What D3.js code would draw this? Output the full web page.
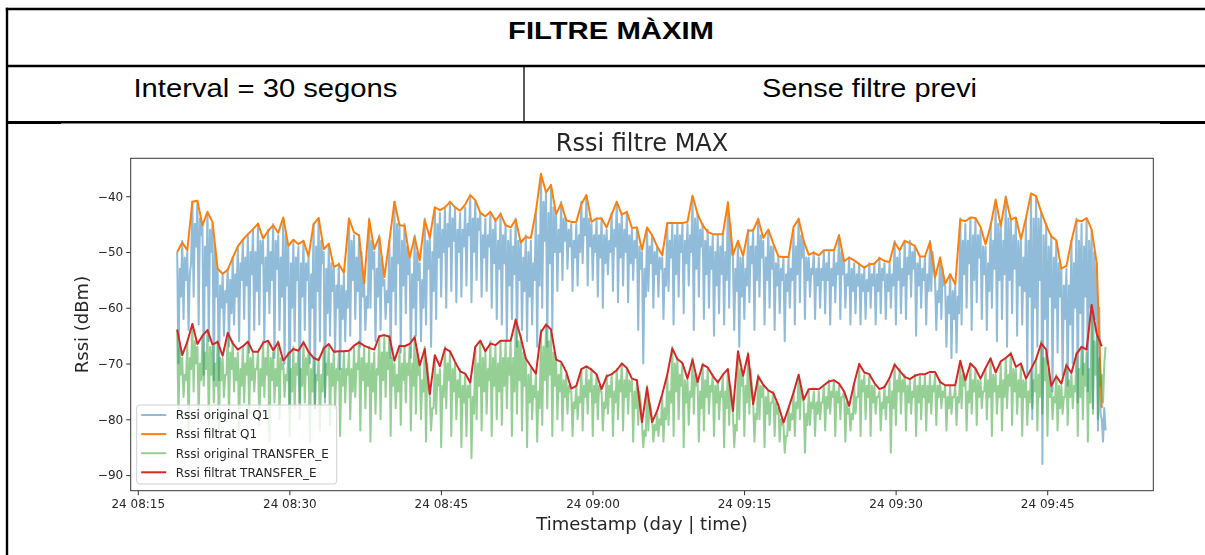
<!DOCTYPE html>
<html>
<head>
<meta charset="utf-8">
<script src="https://cdn.jsdelivr.net/npm/d3@7"></script>
<style>
  html, body { margin: 0; padding: 0; background: #fff; }
  svg { display: block; }
</style>
</head>
<body>
<svg id="fig" width="1205" height="555"></svg>
<script>
// ---- texts ----
const tableTitle = "FILTRE MÀXIM";
const tableCells = ["Interval = 30 segons", "Sense filtre previ"];
const chartTitle = "Rssi filtre MAX";
const xLabel = "Timestamp (day | time)";
const yLabel = "Rssi (dBm)";
const seriesNames = ["Rssi original Q1", "Rssi filtrat Q1", "Rssi original TRANSFER_E", "Rssi filtrat TRANSFER_E"];
const seriesColors = ["#1f77b4", "#ff7f0e", "#2ca02c", "#d62728"];

// ---- axes ----
const yTicks = [-90, -80, -70, -60, -50, -40];
const yDomain = [-92.8, -33.2];
const xTickTimes = ["2020-02-24T08:15:00", "2020-02-24T08:30:00", "2020-02-24T08:45:00",
                    "2020-02-24T09:00:00", "2020-02-24T09:15:00", "2020-02-24T09:30:00", "2020-02-24T09:45:00"];
const xDomain = ["2020-02-24T08:14:18", "2020-02-24T09:55:30"];

// ---- sampling ----
const firstSample = "2020-02-24T08:18:54";
const rawStepSec = 7.5;     // raw readings
const filterStepSec = 30;   // max filter window

// max over each 30 s window, Q1 (dBm)
const q1Filtered = [
  -50, -48.3, -49.7, -41, -40.8, -45.2, -42.8, -44.7, -53, -53.9,
  -53.2, -51, -49, -47.8, -46.8, -45.9, -44.9, -47.6, -46.2, -45.2,
  -46.6, -43.8, -48.9, -47.8, -48.6, -48, -50.8, -45, -43.9, -49.5,
  -48.5, -52.7, -52.2, -53.7, -44, -46.5, -47, -55.7, -44.2, -49.5,
  -47.3, -54.5, -48, -41, -45.2, -45.3, -51, -47.3, -51.5, -44.3,
  -47.4, -42, -42.5, -42, -41, -42, -42.6, -41.5, -39.8, -40.7,
  -43, -43.6, -42.8, -44.4, -43.2, -45.2, -45.6, -44.2, -48.3, -47.3,
  -47.5, -42.7, -36, -39.3, -38, -43.2, -41.3, -44.3, -44.6, -44.6,
  -41.4, -39.8, -44.6, -44, -44, -45.6, -43.2, -41, -43.3, -42.8,
  -45.7, -45.6, -49.6, -45.6, -47, -49, -50.6, -44.8, -44.8, -44.8,
  -44.8, -44.6, -39.9, -43.2, -45.2, -46.4, -46.8, -46.8, -46.8, -41.2,
  -50.5, -48, -50.7, -46.2, -46.1, -44.1, -47.5, -46, -48.5, -50.8,
  -50.9, -50.9, -45.5, -44.1, -48, -50.5, -50.1, -50.6, -49.7, -49.7,
  -49.7, -47, -51.7, -51, -51.5, -52.2, -52.8, -52.2, -52.1, -51.1,
  -51.6, -51.8, -48.3, -49.7, -48, -48.4, -48.9, -50.8, -50.8, -48.2,
  -54.6, -51, -55.7, -54, -55.8, -44.2, -44.5, -43.8, -43.9, -45.5,
  -48.6, -45.3, -40.6, -45.3, -40.2, -44.2, -43.8, -47.7, -43.9, -39.5,
  -40, -42.8, -45.2, -47.2, -47.9, -53, -52.5, -48, -44.3, -44.5,
  -43.9, -46, -52, -78
];

// max over each 30 s window, TRANSFER_E (dBm)
const teFiltered = [
  -63.9, -68.5, -66.1, -62.9, -66.5, -65, -64, -66.6, -66.1, -68.6,
  -64.5, -66.4, -67.5, -66.9, -66.1, -67.9, -67.9, -66.3, -65.9, -67.6,
  -66.2, -69.5, -68.3, -67.4, -67.7, -66.2, -67.9, -69, -69.4, -67.3,
  -66.5, -67.9, -67.8, -67.8, -67.7, -66.8, -66.2, -66.8, -67.2, -67.5,
  -65.1, -64.9, -65.2, -69.5, -66.8, -66.9, -66.5, -65.3, -70.3, -67.4,
  -75.5, -68.5, -70.5, -67.3, -67.8, -69.7, -71.4, -71.8, -73.4, -67,
  -65.9, -67.8, -66.4, -66.7, -65.9, -65.9, -65.9, -62.2, -65.3, -69.1,
  -70.5, -71.8, -64.4, -63, -63.9, -69.3, -69.7, -71.5, -74.5, -74,
  -71, -70.5, -71.1, -71.9, -74.6, -72.3, -71.9, -71.2, -70, -70.8,
  -72.7, -73, -80.5, -74.3, -80.5, -78.5, -75.5, -72, -67.3, -69.2,
  -69.9, -72.7, -69.3, -73.3, -70.2, -70.7, -72.2, -73.4, -72, -71,
  -78.5, -67.8, -72.2, -68.3, -77.3, -72.3, -73.8, -74.8, -75.3, -77.5,
  -80.6, -78, -75.2, -72, -76.5, -74.6, -74.5, -74.6, -73.9, -73.2,
  -73, -73.6, -75, -77.6, -73.5, -70.1, -71.6, -71.9, -73.5, -74.6,
  -74.2, -72.6, -70.2, -71.3, -72.4, -72.8, -72.2, -71.9, -71.9, -71.5,
  -71.5, -73.3, -73.9, -73.9, -73.9, -69.5, -73, -70, -70.9, -72.7,
  -70.8, -69.1, -71.6, -69.6, -69, -68.2, -70.6, -70, -72.7, -71,
  -69.2, -66.4, -67.5, -74, -72.3, -73.6, -70.3, -71.7, -68.3, -67,
  -67.5, -59.5, -64.7, -66.9
];

// raw readings every 7.5 s, Q1 (dBm)
const q1Raw = [
  -50,-70,-53,-58, -48,-62,-51,-55, -50,-64,-54,-52, -41,-58,-45,-49, -41,-63,-44,-47, -45,-72,-49,-56, -43,-66,-46,-50, -45,-73,-49,-58,
  -53,-73,-56,-60, -54,-65,-57,-59, -53,-67,-55,-61, -51,-63,-54,-58, -49,-66,-52,-55, -48,-62,-51,-56, -47,-68,-50,-54, -46,-64,-50,-57,
  -45,-63,-48,-52, -48,-66,-51,-57, -46,-61,-50,-55, -45,-69,-48,-53, -47,-64,-51,-58, -44,-70,-47,-56, -49,-78,-52,-60, -48,-66,-51,-55,
  -49,-77,-52,-58, -48,-64,-52,-55, -51,-70,-54,-60, -45,-78,-49,-57, -44,-66,-48,-52, -50,-77,-53,-61, -49,-65,-52,-57, -53,-68,-56,-60,
  -52,-71,-56,-62, -54,-66,-57,-60, -44,-65,-48,-55, -47,-62,-51,-57, -47,-67,-50,-58, -56,-64,-58,-60, -44,-60,-48,-53, -50,-66,-53,-58,
  -47,-64,-51,-56, -55,-62,-57,-59, -48,-69,-51,-57, -41,-63,-45,-52, -45,-68,-48,-56, -45,-61,-49,-54, -51,-69,-54,-60, -47,-65,-50,-55,
  -52,-66,-55,-60, -44,-63,-48,-53, -47,-67,-50,-57, -42,-62,-45,-51, -43,-58,-46,-50, -42,-60,-45,-49, -41,-57,-44,-48, -42,-59,-46,-50,
  -43,-58,-46,-49, -42,-56,-45,-47, -40,-59,-44,-50, -41,-55,-44,-46, -43,-58,-47,-51, -44,-57,-47,-49, -43,-60,-46,-52, -44,-62,-48,-53,
  -43,-63,-47,-52, -45,-66,-48,-56, -46,-62,-49,-54, -44,-67,-48,-55, -48,-64,-51,-57, -47,-66,-50,-58, -48,-63,-52,-55, -43,-67,-47,-56,
  -36,-60,-41,-48, -39,-67,-43,-52, -38,-64,-42,-50, -43,-57,-46,-50, -41,-55,-44,-48, -44,-53,-46,-49, -45,-57,-48,-51, -45,-56,-47,-50,
  -41,-52,-44,-47, -40,-56,-44,-49, -45,-55,-47,-50, -44,-58,-47,-51, -44,-60,-47,-52, -46,-54,-48,-50, -43,-57,-46,-49, -41,-59,-45,-51,
  -43,-56,-46,-50, -43,-59,-47,-52, -46,-55,-48,-51, -46,-64,-49,-53, -50,-70,-53,-58, -46,-57,-49,-52, -47,-60,-50,-54, -49,-58,-51,-53,
  -51,-62,-53,-56, -45,-57,-48,-51, -45,-63,-47,-54, -45,-58,-47,-50, -45,-61,-48,-52, -45,-56,-47,-50, -40,-64,-44,-53, -43,-58,-46,-49,
  -45,-62,-48,-54, -46,-60,-49,-53, -47,-65,-50,-56, -47,-61,-49,-54, -47,-63,-50,-55, -41,-60,-45,-50, -51,-64,-53,-57, -48,-67,-51,-58,
  -51,-62,-53,-56, -46,-59,-49,-52, -46,-64,-49,-55, -44,-58,-47,-51, -48,-63,-51,-55, -46,-60,-49,-53, -49,-64,-52,-56, -51,-61,-53,-55,
  -51,-66,-54,-57, -51,-60,-53,-55, -46,-63,-49,-54, -44,-59,-47,-51, -48,-62,-51,-55, -51,-58,-53,-54, -50,-62,-53,-56, -51,-60,-53,-55,
  -50,-61,-52,-55, -50,-63,-53,-56, -50,-59,-52,-54, -47,-62,-50,-54, -52,-60,-54,-56, -51,-63,-53,-57, -52,-61,-54,-56, -52,-63,-54,-57,
  -53,-62,-55,-57, -52,-60,-54,-56, -52,-63,-54,-57, -51,-61,-53,-55, -52,-62,-54,-57, -52,-60,-54,-56, -48,-63,-51,-55, -50,-61,-53,-56,
  -48,-62,-51,-54, -48,-58,-50,-53, -49,-65,-52,-56, -51,-60,-53,-55, -51,-63,-54,-57, -48,-57,-50,-52, -55,-64,-57,-59, -51,-62,-53,-56,
  -56,-67,-58,-61, -54,-69,-57,-62, -56,-68,-58,-61, -44,-63,-48,-54, -45,-60,-48,-52, -44,-64,-47,-55, -44,-59,-47,-51, -46,-62,-49,-54,
  -49,-64,-52,-57, -45,-60,-48,-53, -41,-66,-45,-55, -45,-62,-48,-54, -40,-67,-44,-55, -44,-61,-47,-53, -44,-65,-48,-56, -48,-63,-51,-57,
  -44,-72,-48,-58, -40,-80,-44,-60, -40,-67,-44,-55, -43,-88,-47,-62, -45,-70,-49,-58, -47,-75,-51,-60, -48,-68,-52,-58, -53,-72,-56,-62,
  -53,-74,-56,-63, -48,-70,-52,-60, -44,-77,-48,-61, -45,-72,-49,-58, -44,-75,-48,-60, -46,-78,-50,-62, -52,-82,-60,-79, -80,-84,-78,-82
];

// raw readings every 7.5 s, TRANSFER_E (dBm)
const teRaw = [
  -64,-80,-67,-72, -69,-76,-72,-73, -66,-82,-69,-71, -63,-75,-66,-70, -67,-79,-70,-73, -65,-74,-68,-71, -64,-81,-67,-72, -67,-77,-70,-74,
  -66,-83,-69,-73, -69,-76,-72,-72, -65,-80,-68,-71, -66,-75,-69,-73, -68,-82,-71,-74, -67,-77,-70,-72, -66,-79,-69,-73, -68,-75,-71,-71,
  -68,-81,-71,-74, -66,-76,-69,-72, -66,-84,-69,-73, -68,-77,-71,-74, -66,-80,-69,-71, -70,-76,-72,-73, -68,-83,-71,-75, -67,-78,-70,-72,
  -68,-80,-71,-74, -66,-77,-69,-72, -68,-84,-71,-75, -69,-78,-72,-73, -69,-82,-72,-75, -67,-76,-70,-72, -67,-81,-70,-74, -68,-78,-71,-73,
  -68,-83,-71,-74, -68,-77,-71,-72, -68,-80,-71,-75, -67,-76,-70,-71, -66,-82,-69,-73, -67,-78,-70,-74, -67,-84,-70,-75, -68,-79,-71,-72,
  -65,-80,-68,-73, -65,-76,-68,-71, -65,-83,-69,-74, -70,-78,-72,-75, -67,-81,-70,-73, -67,-77,-70,-72, -67,-82,-70,-74, -65,-79,-68,-72,
  -70,-80,-73,-75, -67,-84,-70,-74, -76,-82,-78,-78, -69,-79,-72,-74, -71,-85,-74,-76, -67,-78,-70,-73, -68,-83,-71,-75, -70,-80,-73,-76,
  -71,-85,-74,-77, -72,-83,-74,-76, -73,-87,-76,-79, -67,-80,-70,-74, -66,-82,-69,-75, -68,-79,-71,-73, -66,-83,-69,-74, -67,-80,-70,-75,
  -66,-81,-69,-74, -66,-78,-69,-72, -66,-83,-69,-75, -62,-79,-66,-73, -65,-82,-68,-74, -69,-85,-72,-77, -71,-80,-74,-76, -72,-84,-75,-78,
  -64,-81,-67,-73, -63,-78,-66,-72, -64,-83,-68,-74, -69,-80,-72,-75, -70,-82,-73,-76, -72,-79,-74,-75, -75,-83,-77,-78, -74,-80,-76,-77,
  -71,-82,-74,-76, -71,-79,-73,-75, -71,-83,-74,-77, -72,-80,-74,-75, -75,-82,-77,-78, -72,-79,-74,-76, -72,-83,-75,-77, -71,-80,-73,-75,
  -70,-82,-73,-76, -71,-79,-73,-75, -73,-84,-75,-78, -73,-81,-75,-77, -81,-85,-82,-83, -74,-82,-77,-78, -80,-84,-81,-82, -79,-83,-80,-81,
  -76,-84,-78,-80, -72,-81,-75,-77, -67,-83,-70,-75, -69,-80,-72,-74, -70,-85,-73,-77, -73,-81,-75,-76, -69,-79,-72,-74, -73,-84,-75,-78,
  -70,-82,-73,-76, -71,-79,-74,-75, -72,-83,-74,-77, -73,-80,-75,-76, -72,-85,-75,-78, -71,-81,-74,-76, -79,-85,-81,-82, -68,-80,-71,-74,
  -72,-83,-74,-77, -68,-79,-71,-74, -77,-84,-79,-80, -72,-80,-74,-76, -74,-85,-76,-79, -75,-81,-77,-77, -75,-83,-77,-79, -78,-84,-80,-81,
  -81,-86,-83,-83, -78,-82,-79,-80, -75,-83,-77,-78, -72,-80,-74,-76, -77,-86,-79,-81, -75,-81,-77,-78, -75,-83,-77,-79, -75,-80,-77,-77,
  -74,-82,-76,-78, -73,-79,-75,-76, -73,-83,-75,-77, -74,-80,-76,-76, -75,-84,-77,-79, -78,-82,-79,-80, -74,-79,-76,-76, -70,-83,-73,-75,
  -72,-80,-74,-76, -72,-83,-74,-77, -74,-79,-76,-76, -75,-82,-77,-78, -74,-80,-76,-77, -73,-86,-75,-78, -70,-81,-73,-75, -71,-79,-73,-75,
  -72,-82,-74,-77, -73,-79,-75,-76, -72,-83,-74,-77, -72,-80,-74,-76, -72,-82,-74,-77, -72,-79,-74,-75, -72,-81,-74,-76, -73,-78,-75,-76,
  -74,-82,-76,-78, -74,-79,-76,-76, -74,-81,-76,-77, -70,-78,-72,-74, -73,-82,-75,-77, -70,-79,-73,-75, -71,-81,-73,-76, -73,-78,-75,-75,
  -71,-80,-73,-76, -69,-83,-72,-75, -72,-79,-74,-76, -70,-82,-73,-76, -69,-78,-72,-74, -68,-81,-71,-75, -71,-79,-73,-76, -70,-83,-73,-76,
  -73,-81,-75,-77, -71,-78,-73,-75, -69,-82,-72,-76, -66,-79,-69,-73, -68,-83,-71,-76, -74,-80,-76,-77, -72,-82,-74,-78, -74,-79,-76,-76,
  -70,-81,-73,-76, -72,-78,-74,-75, -68,-83,-71,-76, -67,-80,-70,-74, -68,-84,-71,-77, -60,-79,-66,-72, -65,-80,-69,-74, -72,-77,-70,-67
];

// ---------------------------------------------------------------
const svg = d3.select("#fig");
const W = 1205, H = 555;
svg.append("rect").attr("width", W).attr("height", H).attr("fill", "#fff");

// ---- header table ----
const table = svg.append("g");
const tableFont = "'Liberation Sans', Arial, sans-serif";
const tl = { left: 7, top: 9, row1: 66, row2: 122.5, split: 524, right: 1215 };

table.append("line").attr("x1", 5.8).attr("x2", W).attr("y1", tl.top).attr("y2", tl.top)
  .attr("stroke", "#000").attr("stroke-width", 2.4);
table.append("line").attr("x1", tl.left).attr("x2", W).attr("y1", tl.row1).attr("y2", tl.row1)
  .attr("stroke", "#000").attr("stroke-width", 2.4);
table.append("line").attr("x1", tl.left).attr("x2", W).attr("y1", tl.row2).attr("y2", tl.row2)
  .attr("stroke", "#000").attr("stroke-width", 3);
table.append("line").attr("x1", tl.split).attr("x2", tl.split).attr("y1", tl.row1).attr("y2", tl.row2)
  .attr("stroke", "#000").attr("stroke-width", 1.3);

table.append("text").text(tableTitle)
  .attr("x", (tl.left + tl.right) / 2).attr("y", 39)
  .attr("text-anchor", "middle").attr("font-family", tableFont)
  .attr("font-weight", "bold").attr("font-size", 24).attr("fill", "#000")
  .attr("textLength", 206).attr("lengthAdjust", "spacingAndGlyphs");

const cellWidths = [264, 215];
table.selectAll("text.cell").data(tableCells).join("text")
  .attr("class", "cell")
  .text(d => d)
  .attr("x", (d, i) => i === 0 ? (tl.left + tl.split) / 2 : (tl.split + tl.right) / 2)
  .attr("y", 97)
  .attr("text-anchor", "middle").attr("font-family", tableFont)
  .attr("font-size", 26).attr("fill", "#000")
  .attr("textLength", (d, i) => cellWidths[i]).attr("lengthAdjust", "spacingAndGlyphs");

// ---- embedded figure panel ----
const panel = { x: 61, y: 123.5, w: 1099, h: H - 123.5 };
svg.append("rect").attr("x", panel.x).attr("y", panel.y)
  .attr("width", panel.w).attr("height", panel.h).attr("fill", "#fff");

svg.append("line").attr("x1", tl.left).attr("x2", tl.left).attr("y1", tl.top - 1.2).attr("y2", H)
  .attr("stroke", "#000").attr("stroke-width", 2.4);

const defs = svg.append("defs");
defs.append("filter").attr("id", "soft")
  .attr("x", "-2%").attr("y", "-2%").attr("width", "104%").attr("height", "104%")
  .append("feGaussianBlur").attr("stdDeviation", 0.45);

const fig = svg.append("g").attr("filter", "url(#soft)");
const chartFont = "'DejaVu Sans', Verdana, sans-serif";
const ax = { left: 130.7, right: 1153.3, top: 158.3, bottom: 490.7 };

const parse = s => new Date(s);
const x = d3.scaleTime().domain(xDomain.map(parse)).range([ax.left, ax.right]);
const y = d3.scaleLinear().domain(yDomain).range([ax.bottom, ax.top]);

const t0 = parse(firstSample).getTime();
const rawPts = vals => vals.map((v, k) => ({ t: new Date(t0 + k * rawStepSec * 1000), v }));
const filtPts = vals => vals.map((v, k) => ({ t: new Date(t0 + k * filterStepSec * 1000), v }));

const line = d3.line().x(d => x(d.t)).y(d => y(d.v));

const clip = defs.append("clipPath").attr("id", "plotClip");
clip.append("rect").attr("x", ax.left).attr("y", ax.top)
  .attr("width", ax.right - ax.left).attr("height", ax.bottom - ax.top);

const plot = fig.append("g").attr("clip-path", "url(#plotClip)");
const series = [
  { pts: rawPts(q1Raw), color: seriesColors[0], alpha: 0.5 },
  { pts: filtPts(q1Filtered), color: seriesColors[1], alpha: 1 },
  { pts: rawPts(teRaw), color: seriesColors[2], alpha: 0.5 },
  { pts: filtPts(teFiltered), color: seriesColors[3], alpha: 1 }
];
series.forEach(s => {
  plot.append("path").datum(s.pts)
    .attr("d", line)
    .attr("fill", "none")
    .attr("stroke", s.color)
    .attr("stroke-opacity", s.alpha)
    .attr("stroke-width", 2)
    .attr("stroke-linejoin", "round");
});

// ---- axes ----
const axisColor = "#333";
const xAxis = d3.axisBottom(x)
  .tickValues(xTickTimes.map(parse))
  .tickFormat(d3.timeFormat("%d %H:%M"))
  .tickSize(4.5).tickPadding(4.5);
const gx = fig.append("g").attr("transform", `translate(0,${ax.bottom})`).call(xAxis);

const yAxis = d3.axisLeft(y)
  .tickValues(yTicks)
  .tickFormat(d => d3.format("d")(d).replace("-", "\u2212"))
  .tickSize(4.5).tickPadding(3);
const gy = fig.append("g").attr("transform", `translate(${ax.left},0)`).call(yAxis);

[gx, gy].forEach(g => {
  g.select(".domain").remove();
  g.selectAll(".tick line").attr("stroke", axisColor).attr("stroke-width", 1);
  g.selectAll(".tick text").attr("fill", "#262626")
    .attr("font-family", chartFont).attr("font-size", 12);
});

fig.append("rect")
  .attr("x", ax.left).attr("y", ax.top)
  .attr("width", ax.right - ax.left).attr("height", ax.bottom - ax.top)
  .attr("fill", "none").attr("stroke", axisColor).attr("stroke-width", 1);

// ---- titles ----
fig.append("text").text(chartTitle)
  .attr("x", (ax.left + ax.right) / 2).attr("y", 151)
  .attr("text-anchor", "middle").attr("font-family", chartFont)
  .attr("font-size", 24).attr("fill", "#262626");

fig.append("text").text(xLabel)
  .attr("x", (ax.left + ax.right) / 2).attr("y", 530)
  .attr("text-anchor", "middle").attr("font-family", chartFont)
  .attr("font-size", 18).attr("fill", "#262626");

fig.append("text").text(yLabel)
  .attr("transform", `translate(88,${(ax.top + ax.bottom) / 2}) rotate(-90)`)
  .attr("text-anchor", "middle").attr("font-family", chartFont)
  .attr("font-size", 18).attr("fill", "#262626");

// ---- legend ----
const lg = fig.append("g").attr("transform", "translate(136.7,405)");
lg.append("rect").attr("width", 200).attr("height", 79).attr("rx", 3)
  .attr("fill", "#fff").attr("fill-opacity", 0.8)
  .attr("stroke", "#d0d0d0").attr("stroke-width", 1);
const legendAlpha = [0.5, 1, 0.5, 1];
seriesNames.forEach((name, i) => {
  const cy = 10 + i * 19.1;
  lg.append("line").attr("x1", 4.5).attr("x2", 29.5).attr("y1", cy).attr("y2", cy)
    .attr("stroke", seriesColors[i]).attr("stroke-opacity", legendAlpha[i]).attr("stroke-width", 2);
  lg.append("text").text(name)
    .attr("x", 39).attr("y", cy + 4.3)
    .attr("font-family", chartFont).attr("font-size", 12).attr("fill", "#262626");
});
</script>
</body>
</html>
